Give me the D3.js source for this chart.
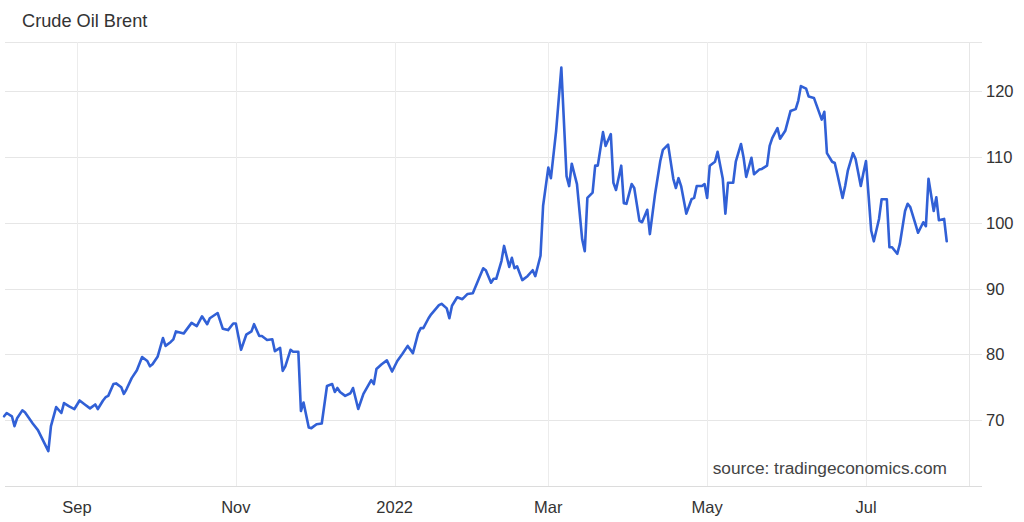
<!DOCTYPE html>
<html>
<head>
<meta charset="utf-8">
<script src="https://cdn.jsdelivr.net/npm/d3@7/dist/d3.min.js"></script>
<style>
  html, body { margin: 0; padding: 0; background: #fff; }
  svg { display: block; font-family: "Liberation Sans", Arial, sans-serif; }
</style>
</head>
<body>
<svg id="chart" width="1024" height="522"></svg>
<script>
const title = "Crude Oil Brent";
const sourceText = "source: tradingeconomics.com";

const dates = [
"2021-08-04","2021-08-05","2021-08-07","2021-08-08","2021-08-09","2021-08-11","2021-08-12","2021-08-15","2021-08-17","2021-08-21",
"2021-08-22","2021-08-24","2021-08-26","2021-08-27","2021-08-29","2021-08-31","2021-09-02","2021-09-04","2021-09-06","2021-09-08",
"2021-09-09","2021-09-11","2021-09-12","2021-09-13","2021-09-15","2021-09-16","2021-09-18","2021-09-19","2021-09-20","2021-09-22",
"2021-09-24","2021-09-26","2021-09-28","2021-09-29","2021-09-30","2021-10-02","2021-10-04","2021-10-05","2021-10-07","2021-10-08",
"2021-10-09","2021-10-12","2021-10-15","2021-10-17","2021-10-19","2021-10-21","2021-10-22","2021-10-25","2021-10-27","2021-10-29",
"2021-10-31","2021-11-01","2021-11-03","2021-11-05","2021-11-07","2021-11-08","2021-11-10","2021-11-11","2021-11-13","2021-11-15",
"2021-11-16","2021-11-18","2021-11-19","2021-11-20","2021-11-22","2021-11-23","2021-11-25","2021-11-26","2021-11-27","2021-11-29",
"2021-11-30","2021-12-02","2021-12-04","2021-12-06","2021-12-08","2021-12-09","2021-12-10","2021-12-11","2021-12-13","2021-12-15",
"2021-12-16","2021-12-18","2021-12-20","2021-12-23","2021-12-24","2021-12-25","2021-12-27","2021-12-29","2021-12-31","2022-01-02",
"2022-01-04","2022-01-06","2022-01-08","2022-01-10","2022-01-11","2022-01-12","2022-01-14","2022-01-15","2022-01-18","2022-01-19",
"2022-01-21","2022-01-22","2022-01-23","2022-01-25","2022-01-27","2022-01-29","2022-01-31","2022-02-02","2022-02-04","2022-02-05",
"2022-02-07","2022-02-08","2022-02-09","2022-02-11","2022-02-12","2022-02-14","2022-02-15","2022-02-16","2022-02-17","2022-02-19",
"2022-02-21","2022-02-23","2022-02-24","2022-02-26","2022-02-27","2022-03-01","2022-03-02","2022-03-04","2022-03-06","2022-03-08",
"2022-03-09","2022-03-10","2022-03-12","2022-03-14","2022-03-15","2022-03-16","2022-03-18","2022-03-19","2022-03-20","2022-03-22",
"2022-03-23","2022-03-25","2022-03-26","2022-03-27","2022-03-29","2022-03-30","2022-03-31","2022-04-02","2022-04-03","2022-04-05",
"2022-04-06","2022-04-08","2022-04-09","2022-04-11","2022-04-13","2022-04-14","2022-04-16","2022-04-18","2022-04-19","2022-04-20",
"2022-04-21","2022-04-23","2022-04-25","2022-04-26","2022-04-27","2022-04-29","2022-04-30","2022-05-01","2022-05-02","2022-05-04",
"2022-05-05","2022-05-07","2022-05-08","2022-05-09","2022-05-11","2022-05-12","2022-05-14","2022-05-15","2022-05-16","2022-05-18",
"2022-05-19","2022-05-21","2022-05-22","2022-05-24","2022-05-25","2022-05-26","2022-05-28","2022-05-29","2022-05-31","2022-06-02",
"2022-06-04","2022-06-05","2022-06-06","2022-06-08","2022-06-09","2022-06-11","2022-06-12","2022-06-14","2022-06-15","2022-06-16",
"2022-06-18","2022-06-19","2022-06-20","2022-06-22","2022-06-23","2022-06-24","2022-06-26","2022-06-27","2022-06-29","2022-06-30",
"2022-07-01","2022-07-03","2022-07-04","2022-07-06","2022-07-07","2022-07-09","2022-07-10","2022-07-11","2022-07-13","2022-07-14",
"2022-07-16","2022-07-17","2022-07-18","2022-07-20","2022-07-21","2022-07-23","2022-07-24","2022-07-25","2022-07-27","2022-07-28",
"2022-07-29","2022-07-31","2022-08-01"
];

const values = [
70.6,71.1,70.6,69.1,70.3,71.5,71.2,69.5,68.5,65.3,
69.1,72.0,71.1,72.6,72.1,71.7,73.0,72.4,71.8,72.4,
71.7,73.0,73.5,73.7,75.5,75.6,75.0,74.0,74.7,76.4,
77.6,79.6,79.0,78.2,78.5,79.7,82.5,81.3,81.9,82.3,
83.5,83.2,84.8,84.3,85.8,84.6,85.5,86.3,83.9,83.7,
84.7,84.7,80.7,83.0,83.5,84.6,82.8,82.8,82.2,82.3,
80.5,81.0,77.5,78.2,80.7,80.4,80.4,71.4,72.7,68.9,
68.8,69.4,69.5,75.2,75.5,74.3,74.9,74.3,73.7,74.1,
74.9,71.7,74.0,76.1,75.5,77.8,78.5,79.1,77.4,79.0,
80.1,81.3,80.2,83.2,84.0,84.0,85.5,86.1,87.5,87.7,
87.0,85.5,87.4,88.7,88.4,89.2,89.3,91.2,93.1,92.8,
90.9,91.5,91.5,94.2,96.5,93.3,94.7,93.1,93.4,91.3,
91.9,92.8,91.9,95.0,102.6,108.4,106.8,114.0,123.6,107.1,
105.6,109.0,105.9,97.5,95.7,103.8,104.6,108.7,108.7,113.8,
111.7,113.5,106.1,105.0,108.7,103.0,102.9,105.9,105.3,100.3,
100.1,102.0,98.3,104.4,109.4,111.1,111.9,106.7,105.3,106.8,
105.6,101.4,103.6,103.8,105.6,105.6,105.9,103.8,108.7,109.3,
110.8,106.7,101.4,106.1,106.1,109.3,112.0,109.9,107.0,109.9,
107.4,108.1,108.2,108.7,111.7,112.9,114.4,112.8,114.0,117.0,
117.3,118.6,120.8,120.4,119.2,119.0,117.9,115.7,116.9,110.6,
109.3,109.1,107.4,103.8,105.6,107.9,110.6,109.7,105.6,107.6,
109.4,98.8,97.2,100.6,103.6,103.6,96.3,96.3,95.3,96.8,
101.8,102.9,102.4,99.8,98.5,100.1,99.5,106.7,101.8,103.9,
100.4,100.6,97.2
];

const yTicks = [70, 80, 90, 100, 110, 120];
const xTickDates = ["2021-09-01","2021-11-01","2022-01-01","2022-03-01","2022-05-01","2022-07-01"];
const xTickLabels = ["Sep","Nov","2022","Mar","May","Jul"];

const parse = d3.utcParse("%Y-%m-%d");
const data = dates.map((d, i) => ({ date: parse(d), value: values[i] }));

const svg = d3.select("#chart");
const plotLeft = 0, plotRight = 969, plotTop = 42, plotBottom = 486;

// x scale anchored on Sep 1 and Jul 1 gridlines, then extended to plot edges
const x = d3.scaleUtc()
  .domain([parse("2021-09-01"), parse("2022-07-01")])
  .range([77, 866]);
x.domain([x.invert(plotLeft), x.invert(plotRight)]).range([plotLeft, plotRight]);

const y = d3.scaleLinear().domain([60, 127.5]).range([plotBottom, plotTop]);

const gridColor = "#e6e6e6";

// horizontal gridlines + ticks (extend to right of plot)
svg.append("g")
  .selectAll("line")
  .data(yTicks)
  .join("line")
  .attr("x1", 5).attr("x2", plotRight + 13)
  .attr("y1", d => Math.round(y(d)) + 0.5).attr("y2", d => Math.round(y(d)) + 0.5)
  .attr("stroke", gridColor).attr("stroke-width", 1);

// top and bottom border lines
svg.append("line").attr("x1", 5).attr("x2", plotRight + 13)
  .attr("y1", plotTop + 0.5).attr("y2", plotTop + 0.5)
  .attr("stroke", gridColor);
svg.append("line").attr("x1", 5).attr("x2", plotRight + 13)
  .attr("y1", plotBottom + 0.5).attr("y2", plotBottom + 0.5)
  .attr("stroke", "#dcdcdc");

// vertical gridlines
svg.append("g")
  .selectAll("line")
  .data(xTickDates)
  .join("line")
  .attr("x1", d => Math.round(x(parse(d))) + 0.5).attr("x2", d => Math.round(x(parse(d))) + 0.5)
  .attr("y1", plotTop).attr("y2", plotBottom)
  .attr("stroke", "#ececec");

// right border
svg.append("line").attr("x1", plotRight + 0.5).attr("x2", plotRight + 0.5)
  .attr("y1", plotTop).attr("y2", plotBottom)
  .attr("stroke", gridColor);

// y labels (right)
svg.append("g")
  .selectAll("text")
  .data(yTicks)
  .join("text")
  .attr("x", plotRight + 17)
  .attr("y", d => y(d))
  .attr("dy", "0.36em")
  .attr("font-size", 16.5)
  .attr("fill", "#333")
  .text(d => d);

// x labels
svg.append("g")
  .selectAll("text")
  .data(xTickDates)
  .join("text")
  .attr("x", d => x(parse(d)))
  .attr("y", 513)
  .attr("text-anchor", "middle")
  .attr("font-size", 16.5)
  .attr("fill", "#333")
  .text((d, i) => xTickLabels[i]);

// line
const line = d3.line().x(d => x(d.date)).y(d => y(d.value));
svg.append("path")
  .datum(data)
  .attr("d", line)
  .attr("fill", "none")
  .attr("stroke", "#3160d6")
  .attr("stroke-width", 2.6)
  .attr("stroke-linejoin", "round")
  .attr("stroke-linecap", "round");

// title
svg.append("text")
  .attr("x", 22).attr("y", 27)
  .attr("font-size", 18.2)
  .attr("fill", "#333")
  .text(title);

// source
svg.append("text")
  .attr("x", 947).attr("y", 474)
  .attr("text-anchor", "end")
  .attr("font-size", 17.3)
  .attr("fill", "#444")
  .text(sourceText);
</script>
</body>
</html>
